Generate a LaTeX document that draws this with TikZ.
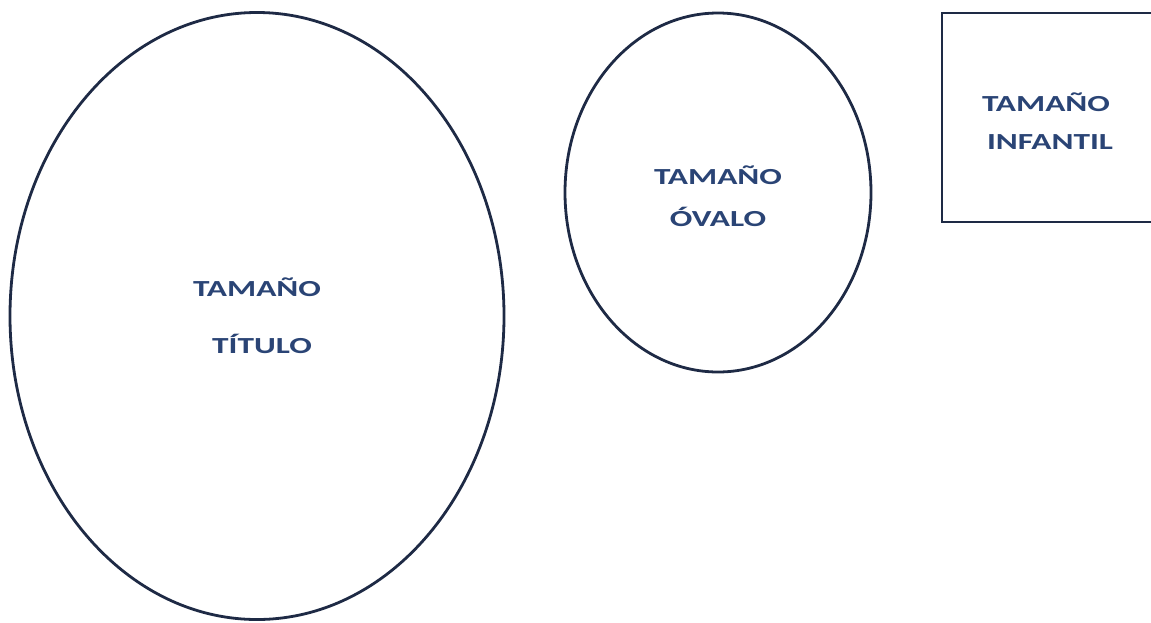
\documentclass[tikz,border=0pt]{standalone}
\usepackage{fontspec}
\setmainfont{Carlito}
\usetikzlibrary{shapes.geometric}
\definecolor{linecol}{HTML}{1E2A45}
\definecolor{txtcol}{HTML}{2A4475}
\begin{document}
\begin{tikzpicture}[x=1pt,y=-1pt,
  shapeline/.style={draw=linecol,line width=2.8pt,inner sep=0pt,outer sep=0pt},
  lbl/.style={text=txtcol,font=\bfseries\fontsize{23}{26}\selectfont,anchor=base,xscale=1.45,inner sep=0pt}]
\useasboundingbox (0,0) rectangle (1151,622);
\clip (0,0) rectangle (1151,622);
\node[shapeline, ellipse, minimum width=494pt, minimum height=607pt] (titulo) at (257,316) {};
\node[shapeline, ellipse, minimum width=306pt, minimum height=359pt] (ovalo) at (718,192.5) {};
\node[shapeline, rectangle, minimum width=230pt, minimum height=209pt, anchor=north west] (infantil) at (942,13) {};
\node[lbl] (t1) at (257,296) {TAMAÑO};
\node[lbl] (t2) at (262,353) {TÍTULO};
\node[lbl] (o1) at (718,184) {TAMAÑO};
\node[lbl] (o2) at (718,226) {ÓVALO};
\node[lbl] (i1) at (1046,111) {TAMAÑO};
\node[lbl] (i2) at (1050,149) {INFANTIL};
\end{tikzpicture}
\end{document}
